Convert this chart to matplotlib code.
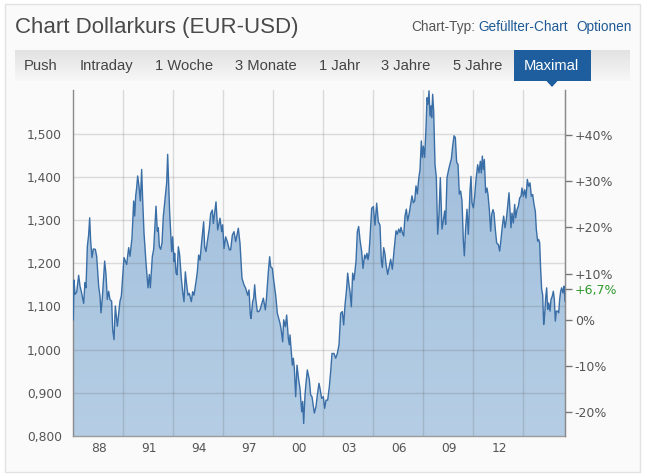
import numpy as np
import matplotlib
matplotlib.use("Agg")
import matplotlib.pyplot as plt
from matplotlib.patches import Rectangle, Polygon

# ---------------- data ----------------
t = [
    1986.46, 1986.50, 1986.56, 1986.66, 1986.78, 1986.86, 1986.96, 1987.08, 1987.16, 1987.22,
    1987.30, 1987.38, 1987.44, 1987.50, 1987.58, 1987.66, 1987.78, 1987.86, 1987.98, 1988.06,
    1988.12, 1988.20, 1988.26, 1988.34, 1988.42, 1988.50, 1988.58, 1988.66, 1988.76, 1988.82,
    1988.90, 1988.98, 1989.10, 1989.26, 1989.34, 1989.40, 1989.50, 1989.66, 1989.78, 1989.86,
    1989.98, 1990.08, 1990.14, 1990.20, 1990.26, 1990.32, 1990.40, 1990.48, 1990.56, 1990.62,
    1990.70, 1990.82, 1990.94, 1991.02, 1991.08, 1991.20, 1991.28, 1991.42, 1991.50, 1991.56,
    1991.62, 1991.70, 1991.78, 1991.86, 1991.98, 1992.06, 1992.12, 1992.18, 1992.24, 1992.36,
    1992.42, 1992.50, 1992.54, 1992.62, 1992.68, 1992.76, 1992.84,
    1992.94, 1993.02, 1993.10, 1993.18, 1993.26, 1993.34, 1993.42, 1993.54, 1993.62, 1993.70,
    1993.82, 1993.90, 1993.98, 1994.06, 1994.18, 1994.28, 1994.34, 1994.42, 1994.50, 1994.62,
    1994.70, 1994.80, 1994.86, 1995.02, 1995.12, 1995.26, 1995.36, 1995.42, 1995.50, 1995.60,
    1995.70, 1995.82, 1995.90, 1996.00, 1996.10, 1996.20, 1996.36, 1996.46, 1996.58, 1996.70,
    1996.80, 1996.92, 1997.00, 1997.08, 1997.12, 1997.22, 1997.28, 1997.34, 1997.40, 1997.50,
    1997.58, 1997.66, 1997.86, 1997.98, 1998.04, 1998.16, 1998.24, 1998.30, 1998.40, 1998.48,
    1998.60, 1998.70, 1998.80, 1998.86,
    1998.92, 1999.02, 1999.08, 1999.18, 1999.26, 1999.36, 1999.42, 1999.46, 1999.54, 1999.60,
    1999.66, 1999.72, 1999.80, 1999.88, 1999.98, 2000.06, 2000.16, 2000.22, 2000.28, 2000.36,
    2000.42, 2000.50, 2000.62, 2000.70, 2000.78, 2000.92, 2001.02, 2001.10, 2001.20, 2001.26,
    2001.36, 2001.46, 2001.54, 2001.62, 2001.72, 2001.82, 2001.90, 2001.98, 2002.10, 2002.20,
    2002.30, 2002.40, 2002.50, 2002.60, 2002.68, 2002.76, 2002.86, 2002.92, 2003.00, 2003.06,
    2003.14, 2003.22, 2003.30, 2003.42, 2003.50, 2003.58, 2003.66, 2003.76, 2003.84, 2003.94,
    2004.00, 2004.08, 2004.14, 2004.20, 2004.26, 2004.36, 2004.46, 2004.56, 2004.66, 2004.76,
    2004.86,
    2004.94, 2005.00, 2005.08, 2005.16, 2005.22, 2005.32, 2005.40, 2005.50, 2005.60, 2005.70,
    2005.82, 2005.90, 2005.98, 2006.06, 2006.12, 2006.20, 2006.28, 2006.36, 2006.44, 2006.52,
    2006.62, 2006.70, 2006.78, 2006.86, 2006.94, 2007.02, 2007.10, 2007.18, 2007.26, 2007.34,
    2007.40, 2007.46, 2007.54, 2007.62, 2007.68, 2007.74, 2007.80, 2007.86, 2007.92, 2007.96,
    2008.02, 2008.08, 2008.16, 2008.24, 2008.32, 2008.40, 2008.48, 2008.58, 2008.66, 2008.74,
    2008.80, 2008.88, 2008.98, 2009.08, 2009.14, 2009.22, 2009.30, 2009.38, 2009.46, 2009.54,
    2009.62, 2009.70, 2009.78, 2009.86, 2009.92, 2010.00, 2010.08, 2010.16, 2010.26,
    2010.32, 2010.38, 2010.46, 2010.54, 2010.62, 2010.72, 2010.80, 2010.88, 2010.94, 2011.00,
    2011.06, 2011.12, 2011.20, 2011.28, 2011.34, 2011.42, 2011.50, 2011.56, 2011.64, 2011.70,
    2011.78, 2011.86, 2011.96, 2012.04, 2012.12, 2012.20, 2012.28, 2012.36, 2012.44, 2012.52,
    2012.60, 2012.66, 2012.72, 2012.78, 2012.86, 2012.94, 2013.00, 2013.08, 2013.16, 2013.24,
    2013.32, 2013.38, 2013.46, 2013.54, 2013.62, 2013.70, 2013.78, 2013.86, 2013.94, 2014.02,
    2014.10, 2014.18, 2014.24, 2014.32, 2014.38, 2014.44, 2014.50, 2014.56, 2014.62, 2014.68,
    2014.74, 2014.80, 2014.86, 2014.92, 2014.98, 2015.06, 2015.12, 2015.20, 2015.26, 2015.32,
    2015.38, 2015.44, 2015.52, 2015.58, 2015.64, 2015.70, 2015.76, 2015.84, 2015.90, 2015.93,
    2015.96,
]
rate = [
    1.069, 1.161, 1.128, 1.133, 1.172, 1.147, 1.131, 1.107, 1.155, 1.143,
    1.239, 1.266, 1.305, 1.251, 1.213, 1.233, 1.232, 1.216, 1.147, 1.124,
    1.085, 1.120, 1.155, 1.205, 1.174, 1.116, 1.135, 1.116, 1.112, 1.047,
    1.023, 1.101, 1.054, 1.112, 1.124, 1.158, 1.213, 1.197, 1.236, 1.216,
    1.259, 1.344, 1.309, 1.355, 1.375, 1.402, 1.378, 1.344, 1.417, 1.347,
    1.270, 1.201, 1.143, 1.174, 1.143, 1.216, 1.232, 1.332, 1.274, 1.282,
    1.239, 1.232, 1.247, 1.309, 1.355, 1.386, 1.452, 1.386, 1.317, 1.227,
    1.261, 1.204, 1.223, 1.177, 1.173, 1.238, 1.219,
    1.165, 1.134, 1.111, 1.180, 1.150, 1.126, 1.130, 1.111, 1.134, 1.126,
    1.157, 1.180, 1.219, 1.207, 1.258, 1.296, 1.238, 1.227, 1.250, 1.281,
    1.315, 1.323, 1.292, 1.342, 1.277, 1.304, 1.273, 1.289, 1.234, 1.261,
    1.250, 1.231, 1.231, 1.265, 1.273, 1.250, 1.281, 1.246, 1.165, 1.150,
    1.142, 1.126, 1.138, 1.080, 1.072, 1.111, 1.119, 1.150, 1.119, 1.088,
    1.088, 1.092, 1.119, 1.092, 1.115, 1.180, 1.215, 1.192, 1.188, 1.161,
    1.126, 1.084, 1.069, 1.061,
    1.049, 1.018, 1.069, 1.053, 1.080, 1.026, 1.011, 1.034, 0.995, 0.964,
    0.980, 0.957, 0.891, 0.964, 0.930, 0.910, 0.856, 0.880, 0.829, 0.895,
    0.922, 0.953, 0.930, 0.895, 0.891, 0.853, 0.868, 0.895, 0.922, 0.910,
    0.887, 0.891, 0.864, 0.883, 0.883, 0.914, 0.949, 0.991, 0.991, 0.980,
    0.991, 1.011, 1.084, 1.088, 1.057, 1.103, 1.142, 1.177, 1.150, 1.134,
    1.099, 1.177, 1.161, 1.204, 1.273, 1.285, 1.254, 1.227, 1.188, 1.219,
    1.211, 1.223, 1.208, 1.223, 1.258, 1.327, 1.331, 1.288, 1.339, 1.296,
    1.288,
    1.205, 1.190, 1.236, 1.221, 1.198, 1.174, 1.190, 1.209, 1.186, 1.228,
    1.275, 1.267, 1.279, 1.271, 1.283, 1.271, 1.263, 1.309, 1.325, 1.298,
    1.317, 1.336, 1.356, 1.340, 1.344, 1.379, 1.360, 1.394, 1.417, 1.483,
    1.445, 1.471, 1.445, 1.514, 1.583, 1.568, 1.599, 1.541, 1.564, 1.537,
    1.591, 1.553, 1.429, 1.398, 1.267, 1.313, 1.398, 1.279, 1.298, 1.321,
    1.290, 1.398, 1.417, 1.433, 1.441, 1.471, 1.495, 1.491, 1.433, 1.429,
    1.360, 1.367, 1.344, 1.252, 1.217, 1.283, 1.325, 1.267, 1.367,
    1.401, 1.340, 1.328, 1.355, 1.394, 1.428, 1.409, 1.436, 1.409, 1.448,
    1.417, 1.440, 1.363, 1.374, 1.359, 1.324, 1.274, 1.313, 1.324, 1.316,
    1.278, 1.247, 1.243, 1.228, 1.255, 1.286, 1.309, 1.282, 1.301, 1.332,
    1.363, 1.324, 1.282, 1.316, 1.293, 1.336, 1.305, 1.324, 1.332, 1.351,
    1.355, 1.374, 1.355, 1.370, 1.351, 1.394, 1.378, 1.386, 1.355, 1.359,
    1.336, 1.320, 1.278, 1.251, 1.255, 1.247, 1.185, 1.139, 1.127, 1.058,
    1.081, 1.120, 1.143, 1.093, 1.108, 1.089, 1.116, 1.124, 1.135, 1.116,
    1.066, 1.089, 1.089, 1.085, 1.116, 1.135, 1.143, 1.131, 1.147, 1.135,
    1.112,
]
left_ticks = [0.8, 0.9, 1.0, 1.1, 1.2, 1.3, 1.4, 1.5]
left_labels = ["0,800", "0,900", "1,000", "1,100", "1,200", "1,300", "1,400", "1,500"]
pct_ticks = [-20, -10, 0, 10, 20, 30, 40]
pct_labels = ["-20%", "-10%", "0%", "+10%", "+20%", "+30%", "+40%"]
current_pct = 6.7
current_label = "+6,7%"
year_label_pos = [1988, 1991, 1994, 1997, 2000, 2003, 2006, 2009, 2012]
year_labels = ["88", "91", "94", "97", "00", "03", "06", "09", "12"]
year_grid = [1989.44, 1992.44, 1995.44, 1998.44, 2001.44, 2004.44, 2007.44, 2010.44, 2013.44]
tabs = ["Push", "Intraday", "1 Woche", "3 Monate", "1 Jahr", "3 Jahre", "5 Jahre", "Maximal"]
tab_x = [24, 80, 155, 235, 319, 381, 453, 524]

# ---------------- figure ----------------
W, H = 661, 475
fig = plt.figure(figsize=(W / 100, H / 100), dpi=100)
fig.patch.set_facecolor("white")

def fx(px):
    return px / W

def fy(py):
    return 1 - py / H

SANS = ["Liberation Sans", "DejaVu Sans"]

# outer panel (behind everything)
fig.patches.append(Rectangle((fx(5), fy(472)), fx(640) - fx(5), (472 - 4) / H,
                             transform=fig.transFigure, facecolor="#fafafa",
                             edgecolor="#e2e2e2", lw=1.0, zorder=-10))

# title and header links
fig.text(fx(15), fy(33), "Chart Dollarkurs (EUR-USD)", fontsize=16.0, color="#4a4a4a",
         family=SANS, va="baseline", ha="left")
fig.text(fx(411), fy(31), "Chart-Typ:", fontsize=9.8, color="#555555", family=SANS,
         va="baseline", ha="left")
fig.text(fx(478), fy(31), "Gefüllter-Chart", fontsize=9.8, color="#1f5a96", family=SANS,
         va="baseline", ha="left")
fig.text(fx(576), fy(31), "Optionen", fontsize=9.8, color="#1f5a96", family=SANS,
         va="baseline", ha="left")

# tab bar with gradient
bar_ax = fig.add_axes([fx(15), fy(81), fx(630) - fx(15), (81 - 50) / H], zorder=1)
grad = np.linspace(0, 1, 64).reshape(-1, 1)
c_top = np.array([0xe2, 0xe2, 0xe2]) / 255
c_bot = np.array([0xf7, 0xf7, 0xf7]) / 255
img = c_top[None, None, :] * (1 - grad[:, :, None]) + c_bot[None, None, :] * grad[:, :, None]
bar_ax.imshow(img, aspect="auto", extent=[0, 1, 0, 1], origin="upper")
bar_ax.set_xlim(0, 1)
bar_ax.set_ylim(0, 1)
bar_ax.axis("off")

fig.patches.append(Rectangle((fx(514), fy(81)), fx(591) - fx(514), (81 - 50) / H,
                             transform=fig.transFigure, facecolor="#1f5e9e",
                             edgecolor="none", zorder=3))
fig.patches.append(Polygon([(fx(546), fy(80.5)), (fx(558), fy(80.5)), (fx(552), fy(87))],
                           closed=True, transform=fig.transFigure, facecolor="#1f5e9e",
                           edgecolor="none", zorder=3))
for name, x in zip(tabs, tab_x):
    fig.text(fx(x), fy(66), name, fontsize=10.6, family=SANS, va="center", ha="left",
             color="white" if name == "Maximal" else "#444444", zorder=5)

# ---------------- main chart ----------------
ax = fig.add_axes([fx(73), fy(436), fx(565) - fx(73), (436 - 90) / H], zorder=1)
ax.set_facecolor("#fafafa")
ymin, ymax = 0.8, 0.8 + 346 / 432
xmin, xmax = 1986.44, 2015.96

tt = np.array(t)
rr = np.array(rate)

# gradient fill clipped to the area under the curve
gy = np.linspace(0, 1, 256).reshape(-1, 1)
f_top = np.array([0x9f, 0xbc, 0xda]) / 255
f_bot = np.array([0xb5, 0xce, 0xe5]) / 255
fimg = f_top[None, None, :] * (1 - gy[:, :, None]) + f_bot[None, None, :] * gy[:, :, None]
im = ax.imshow(fimg, aspect="auto", extent=[xmin, xmax, ymin, ymax], origin="upper", zorder=1)
verts = np.vstack([np.column_stack([tt, rr]), [[tt[-1], ymin], [tt[0], ymin]]])
clip = Polygon(verts, closed=True, transform=ax.transData, facecolor="none", edgecolor="none")
ax.add_patch(clip)
im.set_clip_path(clip)
ax.plot(tt, rr, color="#3a6ea6", lw=1.0, zorder=3)
ax.set_xlim(xmin, xmax)
ax.set_ylim(ymin, ymax)

# grid
for yv in left_ticks[1:]:
    ax.axhline(yv, color="#5a5a5a", alpha=0.2, lw=1.0, zorder=2)
for xv in year_grid:
    ax.axvline(xv, color="#5a5a5a", alpha=0.2, lw=1.0, zorder=2)

ax.set_yticks(left_ticks)
ax.set_yticklabels(left_labels)
ax.set_xticks(year_label_pos)
ax.set_xticklabels(year_labels)
ax.tick_params(axis="y", length=0, pad=8, labelsize=8.8, labelcolor="#555555")
ax.tick_params(axis="x", length=0, pad=4, labelsize=8.8, labelcolor="#555555")
ax.spines["top"].set_visible(False)
ax.spines["left"].set_color("#8a8a8a")
ax.spines["bottom"].set_color("#9a9a9a")
ax.spines["right"].set_color("#8a8a8a")
for s in ax.spines.values():
    s.set_linewidth(1.0)

# right axis with performance since start
base = rate[0]
ax2 = ax.twinx()
ax2.set_ylim(ymin, ymax)
r_ticks = [base * (1 + p / 100) for p in pct_ticks] + [base * (1 + current_pct / 100)]
ax2.set_yticks(r_ticks)
ax2.set_yticklabels(pct_labels + [current_label])
ax2.tick_params(axis="y", length=5, width=1, color="#777777", pad=2, labelsize=9,
                labelcolor="#555555", direction="out")
for s in ["top", "left", "bottom"]:
    ax2.spines[s].set_visible(False)
ax2.spines["right"].set_color("#8a8a8a")
cur_tick = ax2.yaxis.get_major_ticks()[-1]
cur_tick.label2.set_color("#2e9a2e")
cur_tick.tick2line.set_color("#2e9a2e")

fig.savefig("out.png", dpi=100, facecolor="white")
